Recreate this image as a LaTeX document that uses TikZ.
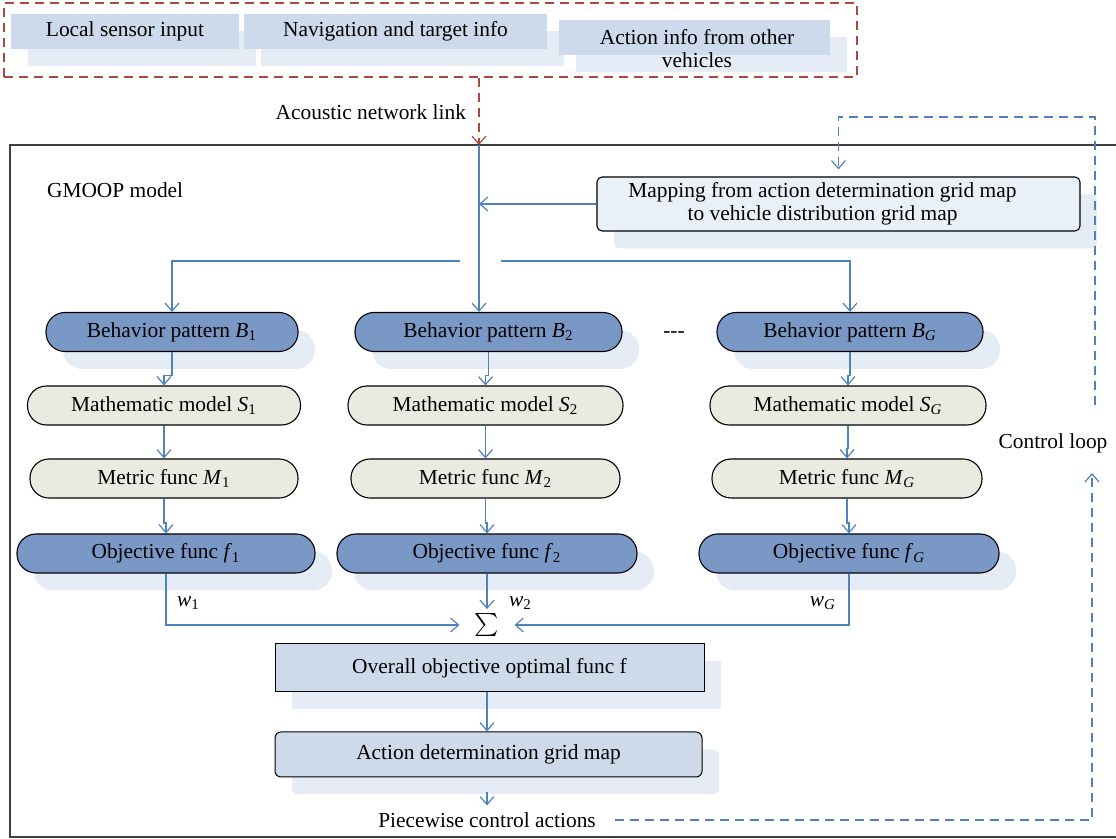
\documentclass[tikz,border=0pt]{standalone}
\usepackage{fontspec}
\setmainfont{Liberation Serif}
\usetikzlibrary{arrows.meta,shadows,calc}

\definecolor{linkblue}{HTML}{4F81BD}
\definecolor{netred}{HTML}{B0473C}
\definecolor{deepfill}{HTML}{7A98C6}
\definecolor{palefill}{HTML}{E9EBE0}
\definecolor{shade}{HTML}{E6ECF5}
\definecolor{inputfill}{HTML}{CCDAEB}
\definecolor{mapfill}{HTML}{EAF0F8}
\definecolor{stagefill}{HTML}{CEDAEA}
\definecolor{framegray}{HTML}{404040}

\newcommand\idx[2]{\textit{#1}\textsubscript{#2}}

\begin{document}
\begin{tikzpicture}[x=0.5pt,y=-0.5pt,
  font=\fontsize{10.7}{11.5}\selectfont,
  tip/.style={-{Straight Barb[length=4pt,width=7pt]}},
  flow/.style={draw=linkblue, line width=0.6pt, tip},
  loopline/.style={draw=linkblue, line width=0.6pt, dash pattern=on 4.5pt off 3pt, tip},
  offshadow/.style={general shadow={shadow xshift=8.5pt, shadow yshift=-8.75pt, fill=shade}},
  inbox/.style={rectangle, fill=inputfill, minimum height=17.5pt, inner sep=0pt, offshadow},
  pill/.style={rectangle, draw=black, line width=0.55pt, rounded corners=9.5pt, minimum height=19.5pt, inner sep=0pt},
  deep/.style={pill, fill=deepfill, offshadow},
  pale/.style={pill, fill=palefill},
  stage/.style={rectangle, draw=black, line width=0.5pt, fill=stagefill, inner sep=0pt, offshadow},
  stepdown/.style={to path={|- ($(\tikztostart)!0.7!(\tikztotarget)$) -| (\tikztotarget)}},
]
\useasboundingbox (0,0) rectangle (1116,839);

% input group at the top
\node[draw=netred, line width=0.6pt, dash pattern=on 4.5pt off 3pt, rectangle,
      minimum width=426.5pt, minimum height=37pt, inner sep=0pt] (grp) at (430.5,40) {};
\node[inbox, minimum width=114pt] (in1) at (125,31.5) {Local sensor input};
\node[inbox, minimum width=151.5pt] (in2) at (395.5,31.5) {Navigation and target info};
\node[inbox, minimum width=135.5pt] (in3) at (694.5,37.5) {};
\node[align=center] (in3t) at (697,48.5) {Action info from other\\vehicles};

% acoustic link into the model
\coordinate (ain) at (479,145);
\draw[netred, line width=0.6pt, dash pattern=on 4.5pt off 3pt, tip] (grp.south -| ain) -- (ain);
\node[anchor=east] (acl) at (473,112) {Acoustic network link};

% model frame
\draw[framegray, line width=0.8pt] (10,145) rectangle (1140,837);
\node[anchor=west] (gm) at (40,190) {GMOOP model};

% grid map mapping
\node[rectangle, draw=black, line width=0.55pt, rounded corners=2.5pt, fill=mapfill, offshadow,
      minimum width=241.5pt, minimum height=27pt, inner sep=0pt] (map) at (838.5,204) {};
\node[align=center] (maptext) at ([xshift=-8pt]map.center)
      {Mapping from action determination grid map\\to vehicle distribution grid map};

% behavior columns
\node[deep, minimum width=126pt]  (B1) at (172,332)   {Behavior pattern \idx{B}{1}};
\node[deep, minimum width=133.5pt] (B2) at (488.5,332) {Behavior pattern \idx{B}{2}};
\node[deep, minimum width=133pt]  (BG) at (850,332)   {Behavior pattern \idx{B}{\textit{G}}};
\node (dots) at (674,335) {-{}-{}-};

\node[pale, minimum width=136.5pt] (S1) at (164,405.5)   {Mathematic model \idx{S}{1}};
\node[pale, minimum width=137.5pt] (S2) at (485.5,405.5) {Mathematic model \idx{S}{2}};
\node[pale, minimum width=138pt]   (SG) at (848,405.5)   {Mathematic model \idx{S}{\textit{G}}};

\node[pale, minimum width=134pt]   (M1) at (164,478.5)   {Metric func \idx{M}{1}};
\node[pale, minimum width=134.5pt] (M2) at (485.5,478.5) {Metric func \idx{M}{2}};
\node[pale, minimum width=135pt]   (MG) at (847,478.5)   {Metric func \idx{M}{\textit{G}}};

\node[deep, minimum width=149pt] (f1) at (166,553.5) {Objective func \idx{f}{1}};
\node[deep, minimum width=150pt] (f2) at (487,553.5) {Objective func \idx{f}{2}};
\node[deep, minimum width=150pt] (fG) at (849,553.5) {Objective func \idx{f}{\textit{G}}};

% distribution of inputs
\draw[flow] (ain) -- (ain |- B2.north);
\draw[flow] (map.west) -- (map.west -| ain);
\coordinate (dl) at (460,261);
\coordinate (dr) at (501,261);
\draw[flow] (dl) -| (B1.north);
\draw[flow] (dr) -| (BG.north);

% column chains
\foreach \c in {1,2,G}{
  \draw[flow] (B\c.south) to[stepdown] (S\c.north);
  \draw[flow] (S\c.south) to[stepdown] (M\c.north);
  \draw[flow] (M\c.south) to[stepdown] (f\c.north);
}

% weighted sum
\node[inner xsep=7.5pt, inner ysep=2pt] (sum) at (487,625) {\scalebox{1.15}{$\sum$}};
\draw[flow] (f1.south) |- (sum.west);
\draw[flow] (fG.south) |- (sum.east);
\draw[flow] (f2.south -| sum) -- (sum.north);
\node[anchor=west] (w1) at (170,603) {\idx{w}{1}};
\node[anchor=west] (w2) at (502,603) {\idx{w}{2}};
\node[anchor=east] (wG) at (843,603) {\idx{w}{\textit{G}}};

% overall objective and action map
\node[stage, minimum width=214.5pt, minimum height=24pt] (ov) at (489.5,668) {Overall objective optimal func f};
\node[stage, rounded corners=3pt, minimum width=213.5pt, minimum height=22.5pt] (act) at (488.5,754.5) {Action determination grid map};
\draw[flow] (ov.south -| sum) -- (act.north -| sum);

\node (pca) at (487,820) {Piecewise control actions};
\coordinate (pcs) at (487,792);
\draw[flow] (pcs) -- (pca.north);

% control loop back to the mapping
\coordinate (lpup) at (1092,473);
\draw[loopline] ([xshift=6pt]pca.east) -| (lpup);
\node (cl) at (1053,443) {Control loop};
\coordinate (lptop) at (1095,405);
\coordinate (lpcorner) at (1095,117);
\draw[loopline] (lptop) -- (lpcorner) -| ([yshift=3.5pt]map.north);
\end{tikzpicture}
\end{document}
